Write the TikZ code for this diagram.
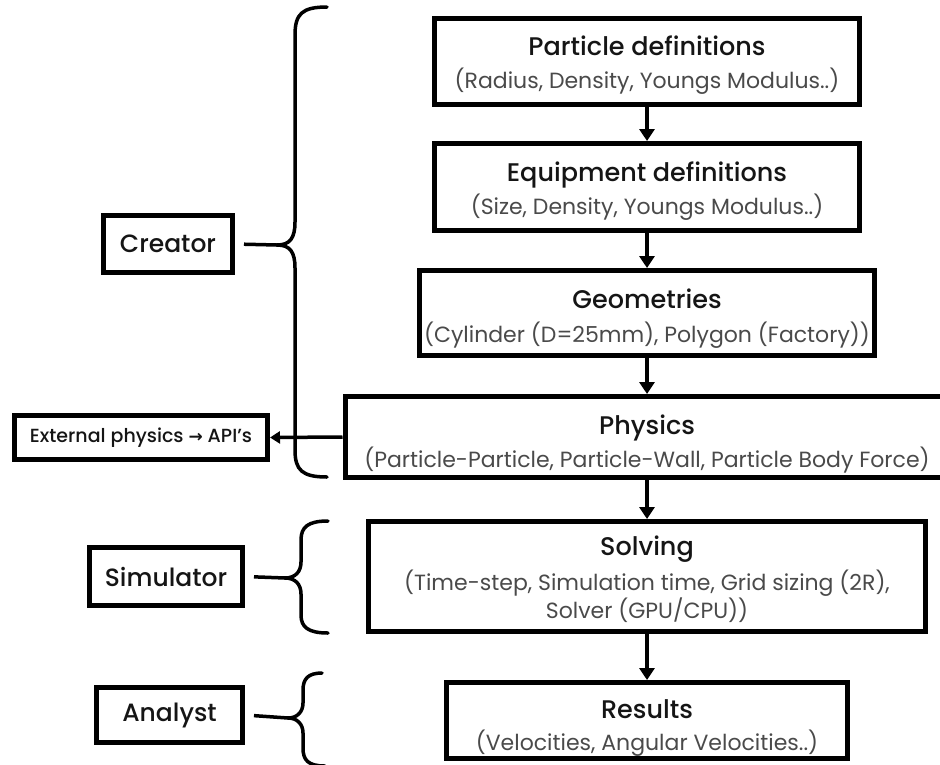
\documentclass[tikz,border=0pt]{standalone}
\usepackage{fontspec}
\setmainfont{Poppins}
\newfontfamily\tfont{Poppins Medium}
\newfontfamily\symfont{DejaVu Sans}
\usetikzlibrary{arrows.meta}
\definecolor{ink}{HTML}{151515}
\definecolor{subgrey}{HTML}{4A4A4A}
\newcommand\ttl[2][19pt]{{\tfont\fontsize{25.5}{31}\selectfont\rule{0pt}{#1}#2}}
\newcommand\sbt[1]{{\color{subgrey}\fontsize{22}{31}\selectfont #1}}
\newcommand\rolefont{\tfont\fontsize{25}{30}\selectfont}
\begin{document}
\begin{tikzpicture}[x=1pt,y=-1pt,
  box/.style={draw=black, line width=5pt, fill=white, inner sep=0pt, align=center, text=ink,
    font=\fontsize{22}{31}\selectfont},
  flow/.style={line width=4pt, -{Triangle[width=15pt,length=12pt]}},
  sideflow/.style={line width=3.5pt, -{Triangle[width=12pt,length=10pt]}},
  brace/.style={line width=3.5pt, line cap=round, line join=round},
  link/.style={line width=3.5pt, shorten <=9pt},
]
\clip (0,0) rectangle (940,764);
\fill[white] (0,0) rectangle (940,764);

% main flow boxes
\node[box, minimum width=425pt, minimum height=86pt] (part) at (647,61.5)
  {\ttl[27pt]{Particle definitions}\\[2pt]\sbt{(Radius, Density, Youngs Modulus..)}};
\node[box, minimum width=425pt, minimum height=87pt] (equip) at (647,187)
  {\ttl[28pt]{Equipment definitions}\\[2pt]\sbt{(Size, Density, Youngs Modulus..)}};
\node[box, minimum width=455pt, minimum height=85pt] (geom) at (647,313)
  {\ttl[31pt]{Geometries}\\[3pt]\sbt{(Cylinder (D=25mm), Polygon (Factory))}};
\node[box, minimum width=604pt, minimum height=81pt] (phys) at (647,437)
  {\ttl[34pt]{Physics}\\[2pt]\sbt{(Particle-Particle, Particle-Wall, Particle Body Force)}};
\node[box, minimum width=557pt, minimum height=110pt] (solv) at (647,576.5)
  {\ttl[25pt]{Solving}\\[4pt]\sbt{(Time-step, Simulation time, Grid sizing (2R),}\\[-3pt]\sbt{Solver (GPU/CPU))}};
\node[box, minimum width=401pt, minimum height=76pt] (res) at (647,720.5)
  {\ttl[34pt]{Results}\\[1pt]\sbt{(Velocities, Angular Velocities..)}};

% role boxes
\node[box, minimum width=129pt, minimum height=57pt, font=\rolefont] (cre) at (168,244) {Creator};
\node[box, minimum width=153pt, minimum height=58pt, font=\rolefont] (sim) at (166,576.5) {Simulator};
\node[box, minimum width=146pt, minimum height=55pt, font=\rolefont] (ana) at (169.5,715) {Analyst};
\node[box, minimum width=253pt, minimum height=44pt, font=\tfont\fontsize{19}{22}\selectfont] (ext) at (141,437.5)
  {External physics {\symfont\bfseries\fontsize{17}{22}\selectfont →} API’s};

% flow arrows
\draw[flow] (part.south) -- (equip.north);
\draw[flow] (equip.south) -- (geom.north);
\draw[flow] (geom.south) -- (phys.north);
\draw[flow] (phys.south) -- (solv.north);
\draw[flow] (solv.south) -- (res.north);
\draw[sideflow] (phys.west) -- (ext.east);

% braces
\coordinate (ctip) at (277,245);
\coordinate (stip) at (285,578);
\coordinate (atip) at (288,718);
\draw[link] (cre.east) -- (ctip);
\draw[link] (sim.east) -- (stip);
\draw[link] (ana.east) -- (atip);
\draw[brace] (327,7) .. controls (302,7) and (295,14) .. (295,35) -- (295,222)
  .. controls (295,238) and (290,245) .. (ctip)
  .. controls (290,245) and (295,252) .. (295,268) -- (295,450)
  .. controls (295,470) and (302,477) .. (327,477);
\draw[brace] (328,521) .. controls (308,521) and (301,527) .. (301,540) -- (301,562)
  .. controls (301,572) and (295,578) .. (stip)
  .. controls (295,578) and (301,584) .. (301,594) -- (301,615)
  .. controls (301,627) and (308,633) .. (328,633);
\draw[brace] (322,673) .. controls (308,673) and (303,679) .. (303,690) -- (303,703)
  .. controls (303,712) and (297,718) .. (atip)
  .. controls (297,718) and (303,724) .. (303,733) -- (303,748)
  .. controls (303,760) and (308,766) .. (325,766);
\end{tikzpicture}
\end{document}
